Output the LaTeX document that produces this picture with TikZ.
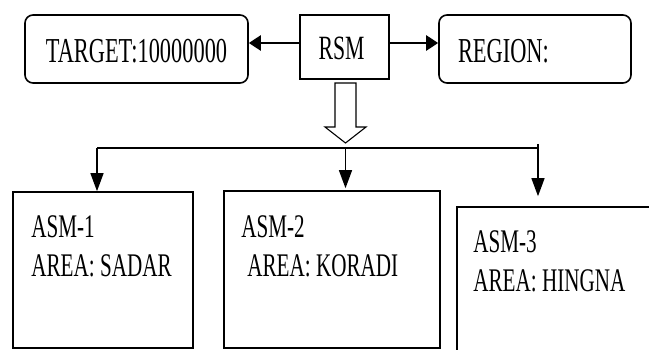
\documentclass[tikz,border=0pt]{standalone}
\usepackage{fontspec}
\setmainfont{Liberation Serif}[FakeStretch=0.64]
\usetikzlibrary{arrows.meta}
\usetikzlibrary{positioning}

\begin{document}
\begin{tikzpicture}[x=1pt,y=-1pt,
  topbox/.style={rectangle, rounded corners=8pt, draw, line width=1.6pt,
    minimum height=68pt, inner sep=0pt, text height=27pt, text depth=0pt,
    font=\fontsize{35}{40}\selectfont},
  chief/.style={rectangle, draw, line width=1.8pt, minimum width=89pt,
    minimum height=64pt, inner sep=0pt, text height=25pt, text depth=0pt,
    font=\fontsize{34}{40}\selectfont},
  areabox/.style={rectangle, draw, line width=1.6pt, inner sep=0pt},
  areatext/.style={anchor=north west, inner sep=0pt, align=left,
    font=\fontsize{33}{39}\selectfont},
  link/.style={-{Triangle[length=12pt,width=15pt]}, line width=2.4pt},
  drop/.style={-{Triangle[length=18pt,width=13pt]}, line width=1.4pt}]

  \clip (0,0) rectangle (649,350);

  % top row
  \node[chief] (RSM) at (344.5,47) {\hspace*{-6pt}RSM};
  \node[topbox, minimum width=223pt] (TARGET) at (136.5,49) {TARGET:10000000};
  \node[topbox, minimum width=192pt, text width=154pt, inner xsep=19pt,
    align=left] (REGION) at (535,49) {REGION:};

  \draw[link] ([yshift=4pt]RSM.west) -- ([yshift=4pt]RSM.west -| TARGET.east);
  \draw[link] ([yshift=4pt]RSM.east) -- ([yshift=4pt]RSM.east -| REGION.west);

  % hollow arrow down to the branches
  \coordinate (hub) at (345.5,148);
  \draw[line width=1.1pt] (335,83) -- (335,127) -- (325,127) -- (345.5,143)
    -- (366,127) -- (356,127) -- (356,83) -- cycle;

  % area boxes
  \node[areabox, minimum width=180pt, minimum height=156pt] (A1) at (103,270) {};
  \node[areabox, minimum width=216pt, minimum height=157pt] (A2) at (332,269.5) {};
  \node[areabox, minimum width=198pt, minimum height=148pt] (A3) at (556,281) {};

  \node[areatext] (T1) [below right=24pt and 19pt of A1.north west]
    {ASM-1\\AREA: SADAR};
  \node[areatext] (T2) [below right=25pt and 18pt of A2.north west]
    {ASM-2\\\hspace*{6pt}AREA: KORADI};
  \node[areatext] (T3) [below right=24pt and 17pt of A3.north west]
    {ASM-3\\AREA: HINGNA};

  % branches
  \coordinate (b1) at (97,148);
  \coordinate (b3) at (538,148);
  \draw[line width=1.4pt] (b1) -- (b3);
  \draw[drop] (b1) -- (b1 |- A1.north);
  \draw[drop, shorten >=2pt] (hub) -- (hub |- A2.north);
  \draw[drop, shorten >=10pt] ([yshift=4pt]b3) -- (b3 |- A3.north);

\end{tikzpicture}
\end{document}
